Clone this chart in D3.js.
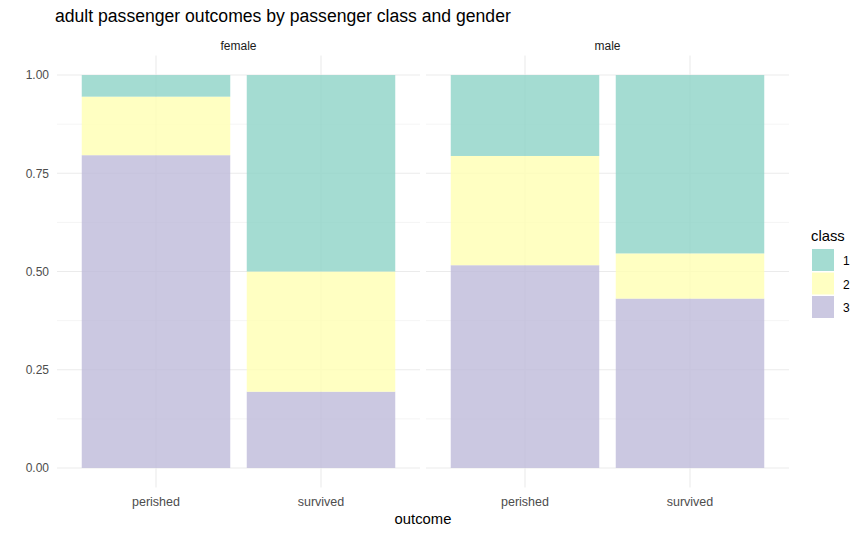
<!DOCTYPE html>
<html><head><meta charset="utf-8">
<script src="https://cdn.jsdelivr.net/npm/d3@7"></script>
<style>body{margin:0;background:#fff;} text{font-family:"Liberation Sans",Arial,sans-serif;}</style>
</head><body>
<svg id="chart" width="864" height="533"></svg>
<script>
const genders = ["female", "male"];
const outcomes = ["perished", "survived"];
const classes = ["1", "2", "3"];
// proportions per class, order: class 1, 2, 3
const femalePerished = [0.055, 0.149, 0.796];
const femaleSurvived = [0.500, 0.306, 0.194];
const malePerished = [0.206, 0.278, 0.516];
const maleSurvived = [0.454, 0.115, 0.431];
const yTicks = [0, 0.25, 0.5, 0.75, 1];
const yMinor = [0.125, 0.375, 0.625, 0.875];
const colors = ["#8DD3C7", "#FFFFB3", "#BEBADA"];

const dataMap = {female: {perished: femalePerished, survived: femaleSurvived},
                 male: {perished: malePerished, survived: maleSurvived}};

const svg = d3.select("#chart");
const panelTop = 55.4, panelBottom = 487.6;
const panels = [{g: "female", x0: 57, x1: 420}, {g: "male", x0: 426, x1: 789}];
const y = d3.scaleLinear().domain([-0.05, 1.05]).range([panelBottom, panelTop]);
const color = d3.scaleOrdinal().domain(classes).range(colors);
const grid = "#ebebeb";

svg.append("text").attr("x", 55).attr("y", 22).attr("font-size", 17.6).attr("fill", "#000")
  .text("adult passenger outcomes by passenger class and gender");

panels.forEach((p, pi) => {
  const unit = (p.x1 - p.x0) / 2.2;
  const xc = d3.scalePoint().domain(outcomes).range([p.x0 + 0.6 * unit, p.x0 + 1.6 * unit]);
  const bw = 0.9 * unit;
  const g = svg.append("g");
  g.selectAll(".minor").data(yMinor).join("line")
    .attr("x1", p.x0).attr("x2", p.x1).attr("y1", d => y(d)).attr("y2", d => y(d))
    .attr("stroke", grid).attr("stroke-width", 0.55);
  g.selectAll(".major").data(yTicks).join("line")
    .attr("x1", p.x0).attr("x2", p.x1).attr("y1", d => y(d)).attr("y2", d => y(d))
    .attr("stroke", grid).attr("stroke-width", 1.1);
  g.selectAll(".vmajor").data(outcomes).join("line")
    .attr("x1", d => xc(d)).attr("x2", d => xc(d)).attr("y1", panelTop).attr("y2", panelBottom)
    .attr("stroke", grid).attr("stroke-width", 1.1);
  outcomes.forEach(o => {
    const vals = dataMap[p.g][o];
    let cum = 0;
    const segs = [];
    for (let i = classes.length - 1; i >= 0; i--) {
      segs.push({c: classes[i], y0: cum, y1: cum + vals[i]});
      cum += vals[i];
    }
    g.selectAll(null).data(segs).join("rect")
      .attr("x", xc(o) - bw / 2).attr("width", bw)
      .attr("y", d => y(d.y1)).attr("height", d => y(d.y0) - y(d.y1))
      .attr("fill", d => color(d.c)).attr("fill-opacity", 0.8);
  });
  g.append("text").attr("x", (p.x0 + p.x1) / 2).attr("y", 50).attr("text-anchor", "middle")
    .attr("font-size", 12).attr("fill", "#1a1a1a").text(p.g);
  g.selectAll(".xl").data(outcomes).join("text")
    .attr("x", d => xc(d)).attr("y", 506).attr("text-anchor", "middle")
    .attr("font-size", 12.5).attr("fill", "#4d4d4d").text(d => d);
  if (pi === 0) {
    g.selectAll(".yl").data(yTicks).join("text")
      .attr("x", 49).attr("y", d => y(d) + 4.3).attr("text-anchor", "end")
      .attr("font-size", 12).attr("fill", "#4d4d4d").text(d => d3.format(".2f")(d));
  }
});

svg.append("text").attr("x", 423).attr("y", 524).attr("text-anchor", "middle")
  .attr("font-size", 14.8).attr("fill", "#000").text("outcome");

// legend
const lg = svg.append("g");
lg.append("text").attr("x", 811).attr("y", 241).attr("font-size", 14.8).attr("fill", "#000").text("class");
lg.selectAll("rect").data(classes).join("rect")
  .attr("x", 812).attr("y", (d, i) => 249 + i * 23.5).attr("width", 22).attr("height", 22)
  .attr("fill", d => color(d)).attr("fill-opacity", 0.8);
lg.selectAll(".lt").data(classes).join("text")
  .attr("x", 843).attr("y", (d, i) => 265 + i * 23.5).attr("font-size", 12).attr("fill", "#000").text(d => d);
</script>
</body></html>
